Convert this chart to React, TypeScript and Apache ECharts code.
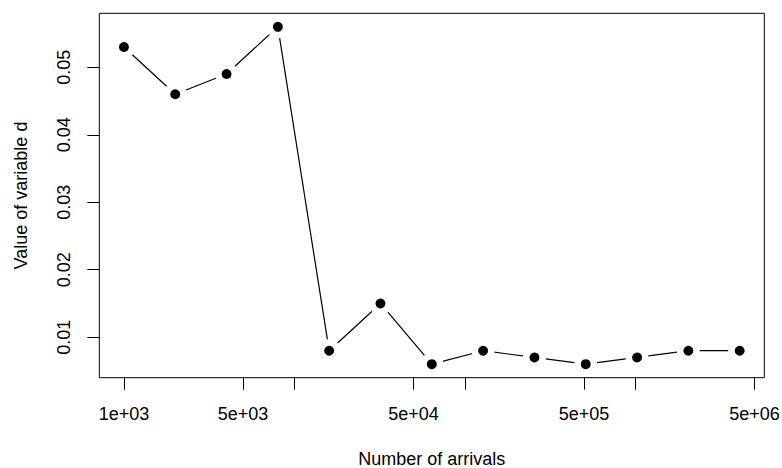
import React, { useEffect, useRef } from "react";
import * as echarts from "echarts";

const arrivals = [1000, 2000, 4000, 8000, 16000, 32000, 64000, 128000, 256000, 512000, 1024000, 2048000, 4096000];
const dValues = [0.053, 0.046, 0.049, 0.056, 0.008, 0.015, 0.006, 0.008, 0.007, 0.006, 0.007, 0.008, 0.008];
const xTickValues = [1000, 5000, 10000, 50000, 100000, 500000, 1000000, 5000000];
const xLabelValues = [1000, 5000, 50000, 500000, 5000000];
const xLabelTexts = ["1e+03", "5e+03", "5e+04", "5e+05", "5e+06"];
const yTickValues = [0.01, 0.02, 0.03, 0.04, 0.05];
const yLabelTexts = ["0.01", "0.02", "0.03", "0.04", "0.05"];

const FONT = "Liberation Sans, Arial, Helvetica, sans-serif";

export default function App() {
  const ref = useRef<HTMLDivElement>(null);
  useEffect(() => {
    if (!ref.current) return;
    const chart = echarts.init(ref.current, null, { renderer: "svg" });
    const lx = arrivals.map((a) => Math.log10(a));
    const lmin = Math.min(...lx);
    const lmax = Math.max(...lx);
    const pad = (lmax - lmin) * 0.04;
    const ymin = Math.min(...dValues);
    const ymax = Math.max(...dValues);
    const ypad = (ymax - ymin) * 0.04;
    const xLabLog = xLabelValues.map((v) => Math.log10(v));
    chart.setOption({
      animation: false,
      backgroundColor: "#ffffff",
      grid: {
        left: 99.3,
        right: 17.7,
        top: 13.3,
        bottom: 90.3,
        show: true,
        borderColor: "#000",
        borderWidth: 1,
        backgroundColor: "transparent",
        containLabel: false,
        outerBoundsMode: "none",
      },
      xAxis: {
        type: "value",
        min: lmin - pad,
        max: lmax + pad,
        name: "Number of arrivals",
        nameLocation: "middle",
        nameGap: 72,
        nameTextStyle: { fontFamily: FONT, fontSize: 18, color: "#000", verticalAlign: "top" },
        axisLine: { show: false },
        splitLine: { show: false },
        axisTick: {
          show: true,
          length: 12,
          lineStyle: { color: "#000", width: 1 },
          customValues: xTickValues.map((v) => Math.log10(v)),
        },
        axisLabel: {
          show: true,
          margin: 27,
          fontFamily: FONT,
          fontSize: 18,
          color: "#000",
          customValues: xLabLog,
          formatter: (v: number) => {
            let best = 0;
            let bd = Infinity;
            xLabLog.forEach((l, i) => {
              const d = Math.abs(l - v);
              if (d < bd) {
                bd = d;
                best = i;
              }
            });
            return xLabelTexts[best];
          },
        },
      },
      yAxis: {
        type: "value",
        min: ymin - ypad,
        max: ymax + ypad,
        name: "Value of variable d",
        nameLocation: "middle",
        nameGap: 69,
        nameRotate: 90,
        nameTextStyle: { fontFamily: FONT, fontSize: 18, color: "#000" },
        axisLine: { show: false },
        splitLine: { show: false },
        axisTick: {
          show: true,
          length: 12,
          lineStyle: { color: "#000", width: 1 },
          customValues: yTickValues,
        },
        axisLabel: {
          show: true,
          rotate: 90,
          margin: 26,
          fontFamily: FONT,
          fontSize: 18,
          color: "#000",
          customValues: yTickValues,
          formatter: (v: number) => {
            let best = 0;
            let bd = Infinity;
            yTickValues.forEach((l, i) => {
              const d = Math.abs(l - v);
              if (d < bd) {
                bd = d;
                best = i;
              }
            });
            return yLabelTexts[best];
          },
        },
      },
      series: [
        {
          type: "line",
          data: arrivals.map((a, i) => [Math.log10(a), dValues[i]]),
          symbol: "circle",
          symbolSize: 16.5,
          showSymbol: true,
          lineStyle: { color: "#000", width: 1.2 },
          itemStyle: { color: "#000", borderColor: "#fff", borderWidth: 6.5 },
          emphasis: { disabled: true },
        },
      ],
    });
    return () => chart.dispose();
  }, []);
  return (
    <div
      ref={ref}
      style={{ position: "fixed", left: 0, top: 0, width: 782, height: 468, background: "#fff" }}
    />
  );
}
